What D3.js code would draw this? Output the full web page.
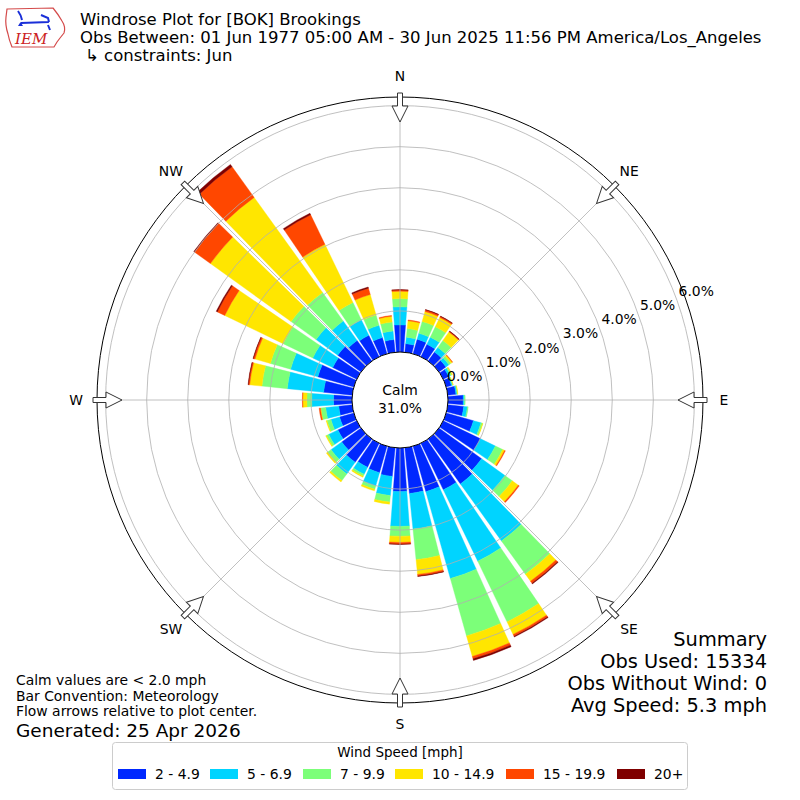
<!DOCTYPE html>
<html>
<head>
<meta charset="utf-8">
<script src="https://cdn.jsdelivr.net/npm/d3@7"></script>
<style>
  body { margin: 0; background: #fff; }
  text { font-family: "DejaVu Sans", sans-serif; }
</style>
</head>
<body>
<div id="chart"></div>
<script>
// wind direction bins (degrees, direction wind blows from)
var directions = d3.range(0, 360, 10);

var speedLabels = ["2 - 4.9", "5 - 6.9", "7 - 9.9", "10 - 14.9", "15 - 19.9", "20+"];
var speedColors = ["#0028ff", "#00d4ff", "#7cff79", "#ffe600", "#ff4700", "#7f0000"];

// frequency (%) per direction bin, one array per speed class
var spd2_5   = [0.66,0.21,0.37,0.34,0.27,0.21,0.15,0.13,0.20,0.37,0.39,0.69,1.01,1.28,1.35,1.26,1.15,1.12,
                1.06,0.70,0.67,0.65,0.70,0.58,0.51,0.36,0.33,0.45,0.70,0.91,0.65,0.70,0.62,0.58,0.41,0.31];
var spd5_7   = [0.44,0.16,0.15,0.19,0.14,0.09,0.05,0.03,0.03,0.03,0.09,0.19,0.40,0.70,1.71,1.93,2.20,0.87,
                0.85,0.47,0.34,0.19,0.35,0.32,0.25,0.22,0.32,0.53,0.89,0.69,0.54,0.65,0.58,0.42,0.31,0.21];
var spd7_10  = [0.20,0.21,0.30,0.28,0.21,0.06,0.03,0.01,0.01,0.02,0.02,0.04,0.20,0.22,1.00,1.64,1.45,0.75,
                0.24,0.16,0.08,0.05,0.20,0.10,0.06,0.10,0.12,0.12,0.62,0.51,0.80,0.75,0.86,0.47,0.26,0.22];
var spd10_15 = [0.18,0.19,0.25,0.25,0.25,0.04,0.02,0.01,0.01,0.00,0.00,0.01,0.05,0.18,0.21,0.34,0.52,0.36,
                0.15,0.05,0.04,0.03,0.04,0.04,0.02,0.02,0.01,0.10,0.30,0.39,1.58,2.42,2.85,1.57,0.52,0.14];
var spd15_20 = [0.03,0.02,0.04,0.03,0.02,0.01,0.00,0.00,0.00,0.00,0.00,0.00,0.02,0.03,0.06,0.05,0.06,0.04,
                0.04,0.00,0.00,0.00,0.00,0.00,0.00,0.00,0.03,0.01,0.03,0.04,0.20,0.48,0.92,0.80,0.16,0.02];
var spd20p   = [0.01,0.00,0.01,0.01,0.01,0.00,0.00,0.00,0.00,0.00,0.00,0.00,0.00,0.00,0.02,0.02,0.04,0.01,
                0.01,0.00,0.00,0.00,0.00,0.00,0.00,0.00,0.00,0.00,0.01,0.01,0.03,0.02,0.07,0.04,0.03,0.00];

var calmPct = 31.0;
var ringTicks = [0, 1, 2, 3, 4, 5, 6];
var compassNames = ["N", "NE", "E", "SE", "S", "SW", "W", "NW"];
var compassAngles = [0, 45, 90, 135, 180, 225, 270, 315];

var titleLines = ["Windrose Plot for [BOK] Brookings",
  "Obs Between: 01 Jun 1977 05:00 AM - 30 Jun 2025 11:56 PM America/Los_Angeles",
  "\u21b3 constraints: Jun"];
var noteLines = ["Calm values are < 2.0 mph", "Bar Convention: Meteorology",
  "Flow arrows relative to plot center."];
var generated = "Generated: 25 Apr 2026";
var summaryLines = ["Summary", "Obs Used: 15334", "Obs Without Wind: 0", "Avg Speed: 5.3 mph"];

var svgWidth = 800, svgHeight = 800;
var cx = 400, cy = 400;

var svg = d3.select("#chart").append("svg")
  .attr("width", svgWidth)
  .attr("height", svgHeight);

var rScale = d3.scaleLinear().domain([0, 6.21]).range([48, 303]);
var rad = function(deg) { return deg * Math.PI / 180; };

var keys = ["s0", "s1", "s2", "s3", "s4", "s5"];
var series = [spd2_5, spd5_7, spd7_10, spd10_15, spd15_20, spd20p];
var rows = directions.map(function(d, i) {
  var row = { dir: d };
  keys.forEach(function(k, j) { row[k] = series[j][i]; });
  return row;
});
var stacked = d3.stack().keys(keys)(rows);

var rose = svg.append("g").attr("transform", "translate(" + cx + "," + cy + ")");
var arc = d3.arc();
var halfW = rad(4.25);

stacked.forEach(function(layer, k) {
  rose.append("g").selectAll("path")
    .data(layer.filter(function(d) { return d[1] - d[0] > 0; }))
    .enter()
    .append("path")
    .attr("d", function(d) {
      return arc({
        innerRadius: rScale(d[0]),
        outerRadius: rScale(d[1]),
        startAngle: rad(d.data.dir) - halfW,
        endAngle: rad(d.data.dir) + halfW
      });
    })
    .attr("fill", speedColors[k])
    .attr("stroke", speedColors[k])
    .attr("stroke-width", 0.4);
});

// grid rings and spokes
rose.append("g").selectAll("circle")
  .data(ringTicks.slice(1))
  .enter()
  .append("circle")
  .attr("r", d => rScale(d))
  .attr("fill", "none")
  .attr("stroke", "#b0b0b0")
  .attr("stroke-width", 0.8);

rose.append("g").selectAll("line")
  .data(compassAngles)
  .enter()
  .append("line")
  .attr("x1", d => rScale(0) * Math.sin(rad(d)))
  .attr("y1", d => -rScale(0) * Math.cos(rad(d)))
  .attr("x2", d => rScale(6.21) * Math.sin(rad(d)))
  .attr("y2", d => -rScale(6.21) * Math.cos(rad(d)))
  .attr("stroke", "#b0b0b0")
  .attr("stroke-width", 0.8);

rose.append("circle")
  .attr("r", rScale(6.21))
  .attr("fill", "none")
  .attr("stroke", "#000")
  .attr("stroke-width", 1);

// calm circle
rose.append("circle")
  .attr("r", rScale(0))
  .attr("fill", "#fff")
  .attr("stroke", "#000")
  .attr("stroke-width", 1);

rose.append("text")
  .attr("text-anchor", "middle")
  .attr("y", -5)
  .style("font-size", "13.9px")
  .text("Calm");
rose.append("text")
  .attr("text-anchor", "middle")
  .attr("y", 13)
  .style("font-size", "13.9px")
  .text(calmPct.toFixed(1) + "%");

// radial labels
rose.append("g").selectAll("text")
  .data(ringTicks)
  .enter()
  .append("text")
  .attr("x", d => rScale(d) * Math.sin(rad(70)) + 2)
  .attr("y", d => -rScale(d) * Math.cos(rad(70)) - 3)
  .style("font-size", "13.9px")
  .text(d => d.toFixed(1) + "%");

// flow arrows at compass points
var arrowPath = "M-2.5,-307 L2.5,-307 L2.5,-294 L8,-294 L0,-278 L-8,-294 L-2.5,-294 Z";
rose.append("g").selectAll("path")
  .data(compassAngles)
  .enter()
  .append("path")
  .attr("d", arrowPath)
  .attr("transform", d => "rotate(" + d + ")")
  .attr("fill", "#fff")
  .attr("stroke", "#333")
  .attr("stroke-width", 1);

rose.append("g").selectAll("text")
  .data(compassNames)
  .enter()
  .append("text")
  .attr("x", (d, i) => 324 * Math.sin(rad(compassAngles[i])))
  .attr("y", (d, i) => -324 * Math.cos(rad(compassAngles[i])))
  .attr("text-anchor", "middle")
  .attr("dominant-baseline", "central")
  .style("font-size", "13.9px")
  .text(d => d);

// title block
svg.append("g").selectAll("text")
  .data(titleLines)
  .enter()
  .append("text")
  .attr("x", (d, i) => i == 2 ? 85 : 80)
  .attr("y", (d, i) => 25 + i * 18)
  .style("font-size", "16.5px")
  .text(d => d);

// IEM logo
var logo = svg.append("g");
logo.append("path")
  .attr("d", "M7,9 L53,8 Q58,14 62,21 Q66,27 64,33 Q60,38 57,42 L54,47 L12,47 Q9,40 8,34 Q5,25 6,17 Z")
  .attr("fill", "none")
  .attr("stroke", "#d44a4a")
  .attr("stroke-width", 1.2);
logo.append("path")
  .attr("d", "M21,23 L49,22 M18,11 Q21,15 22,20 M41,15 L48,18 L49,22 M48,25 L50,30")
  .attr("fill", "none")
  .attr("stroke", "#1a2fd8")
  .attr("stroke-width", 2);
logo.append("path")
  .attr("d", "M18,26 L20.5,22 L23,26 Z")
  .attr("fill", "#1a2fd8");
logo.append("text")
  .attr("x", 15)
  .attr("y", 44)
  .style("font-family", "'DejaVu Serif', serif")
  .style("font-style", "italic")
  .style("font-size", "15px")
  .attr("fill", "#cc2222")
  .text("IEM");

// notes bottom-left
svg.append("g").selectAll("text")
  .data(noteLines)
  .enter()
  .append("text")
  .attr("x", 16)
  .attr("y", (d, i) => 685 + i * 15.6)
  .style("font-size", "13.9px")
  .text(d => d);
svg.append("text")
  .attr("x", 16)
  .attr("y", 736.5)
  .style("font-size", "18.5px")
  .text(generated);

// summary bottom-right
svg.append("g").selectAll("text")
  .data(summaryLines)
  .enter()
  .append("text")
  .attr("x", 767)
  .attr("y", (d, i) => 646 + i * 22)
  .attr("text-anchor", "end")
  .style("font-size", "19.4px")
  .text(d => d);

// legend
var legend = svg.append("g");
legend.append("rect")
  .attr("x", 112.5).attr("y", 742.5)
  .attr("width", 575).attr("height", 47)
  .attr("rx", 3)
  .attr("fill", "#fff")
  .attr("stroke", "#cccccc");
legend.append("text")
  .attr("x", 400).attr("y", 757)
  .attr("text-anchor", "middle")
  .style("font-size", "13.5px")
  .text("Wind Speed [mph]");
var legendX = [118, 210, 303, 395, 506, 617];
var entries = legend.selectAll(".entry")
  .data(speedLabels)
  .enter()
  .append("g")
  .attr("class", "entry")
  .attr("transform", (d, i) => "translate(" + legendX[i] + ",0)");
entries.append("rect")
  .attr("x", 0).attr("y", 769)
  .attr("width", 28).attr("height", 10)
  .attr("fill", (d, i) => speedColors[i]);
entries.append("text")
  .attr("x", 37).attr("y", 779)
  .style("font-size", "13.9px")
  .text(d => d);
</script>
</body>
</html>
